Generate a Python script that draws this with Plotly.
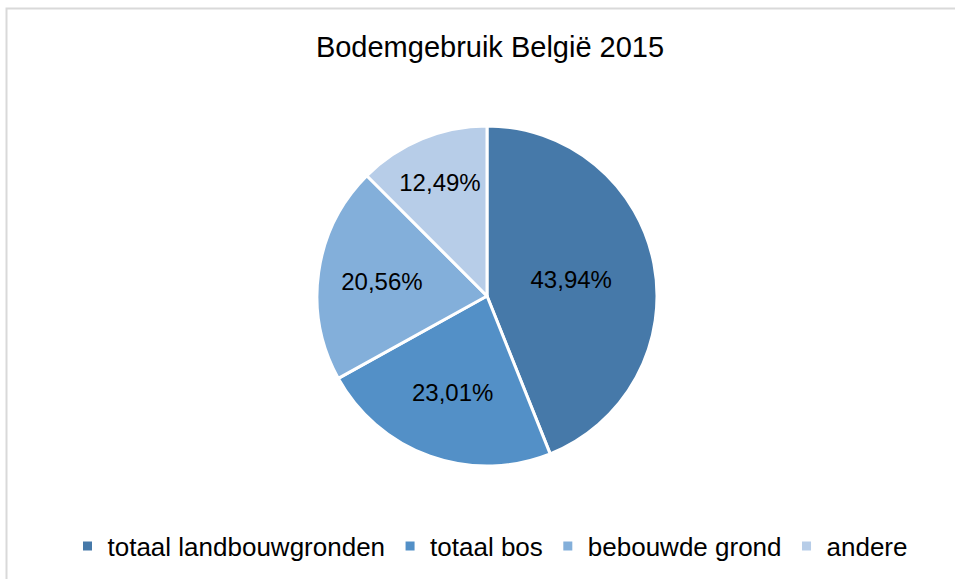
import plotly.graph_objects as go

categories = ["totaal landbouwgronden", "totaal bos", "bebouwde grond", "andere"]
values = [43.94, 23.01, 20.56, 12.49]
colors = ["#4679A9", "#5390C7", "#83AFDA", "#B7CDE8"]

W, H = 955, 579
texts = [f"{v:.2f}%".replace(".", ",") for v in values]
FONT = "Liberation Sans, Arial"

fig = go.Figure(go.Pie(
    labels=categories,
    values=values,
    text=texts,
    textinfo="text",
    textposition="inside",
    insidetextorientation="horizontal",
    textfont=dict(family=FONT, size=24, color="#000000"),
    marker=dict(colors=colors, line=dict(color="#FFFFFF", width=3)),
    sort=False,
    direction="clockwise",
    rotation=0,
    domain=dict(x=[317 / W, 657 / W], y=[(H - 466) / H, (H - 126) / H]),
    hoverinfo="label+percent",
))

fig.update_layout(
    width=W, height=H,
    margin=dict(l=0, r=0, t=0, b=0),
    paper_bgcolor="#FFFFFF",
    title=dict(text="Bodemgebruik België 2015", x=490 / W, xanchor="center",
               y=1 - 47 / H, yanchor="middle",
               font=dict(family=FONT, size=29, color="#000000")),
    showlegend=True,
    legend=dict(orientation="h", x=490 / W, xanchor="center", y=1 - 546 / H, yanchor="middle",
                font=dict(family=FONT, size=26, color="#000000"),
                itemwidth=30, tracegroupgap=0),
    shapes=[dict(type="rect", xref="paper", yref="paper",
                 x0=6.5 / W, x1=1.05, y0=-0.05, y1=1 - 8.5 / H,
                 line=dict(color="#D9D9D9", width=2), fillcolor="rgba(0,0,0,0)")],
)

fig.write_html("out.html", config={"displayModeBar": False},
               post_script="document.body.style.margin='0';document.body.style.overflow='hidden';")
